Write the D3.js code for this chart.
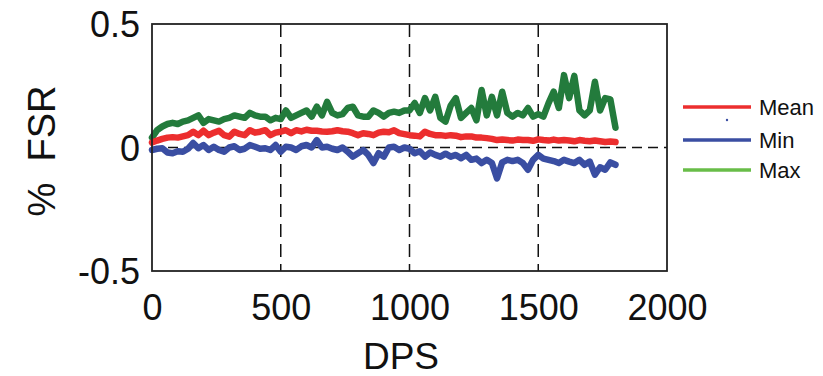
<!DOCTYPE html>
<html>
<head>
<meta charset="utf-8">
<script src="https://cdn.jsdelivr.net/npm/d3@7"></script>
<style>
  html, body { margin: 0; padding: 0; background: #fff; }
  text { font-family: "Liberation Sans", Arial, sans-serif; fill: #111; }
</style>
</head>
<body>
<svg id="chart" width="823" height="376"></svg>
<script>
// DPS sampled every 20 from 0 to 1800
const dps = d3.range(0, 1801, 20);

const meanValues = [
  0.020, 0.028, 0.035, 0.040, 0.042, 0.040, 0.045, 0.050, 0.064, 0.050,
  0.068, 0.050, 0.060, 0.068, 0.050, 0.044, 0.064, 0.055, 0.050, 0.070,
  0.060, 0.064, 0.070, 0.050, 0.060, 0.064, 0.070, 0.058, 0.070, 0.065,
  0.072, 0.068, 0.068, 0.065, 0.064, 0.066, 0.070, 0.066, 0.064, 0.058,
  0.050, 0.058, 0.055, 0.050, 0.060, 0.064, 0.062, 0.070, 0.058, 0.054,
  0.050, 0.048, 0.045, 0.064, 0.055, 0.050, 0.050, 0.047, 0.050, 0.048,
  0.042, 0.045, 0.045, 0.040, 0.040, 0.038, 0.035, 0.030, 0.032, 0.030,
  0.028, 0.032, 0.030, 0.030, 0.027, 0.033, 0.030, 0.028, 0.032, 0.028,
  0.030, 0.028, 0.025, 0.030, 0.027, 0.025, 0.028, 0.025, 0.022, 0.024,
  0.022
];

const minValues = [
  -0.010, -0.005, -0.003, -0.020, -0.023, -0.015, -0.017, -0.005, 0.018, -0.003,
  0.010, -0.010, 0.003, -0.010, -0.017, 0.000, 0.005, -0.010, -0.005, 0.010,
  0.003, -0.005, -0.003, -0.010, 0.010, -0.017, 0.003, 0.000, -0.010, 0.005,
  0.010, 0.000, 0.030, 0.000, 0.003, -0.005, -0.010, 0.000, -0.017, -0.037,
  -0.023, -0.010, -0.030, -0.063, -0.023, -0.037, 0.000, 0.003, -0.010, 0.000,
  -0.005, -0.023, -0.015, -0.037, -0.020, -0.030, -0.037, -0.025, -0.037, -0.030,
  -0.043, -0.030, -0.050, -0.045, -0.063, -0.050, -0.063, -0.125, -0.060, -0.050,
  -0.055, -0.050, -0.063, -0.090, -0.050, -0.030, -0.045, -0.050, -0.055, -0.063,
  -0.050, -0.057, -0.063, -0.050, -0.070, -0.057, -0.110, -0.080, -0.090, -0.060,
  -0.070
];

const maxValues = [
  0.040, 0.070, 0.085, 0.095, 0.100, 0.095, 0.105, 0.110, 0.120, 0.130,
  0.100, 0.115, 0.110, 0.105, 0.115, 0.120, 0.130, 0.125, 0.120, 0.140,
  0.130, 0.125, 0.125, 0.110, 0.120, 0.115, 0.150, 0.120, 0.130, 0.140,
  0.150, 0.125, 0.165, 0.130, 0.185, 0.140, 0.130, 0.135, 0.160, 0.165,
  0.130, 0.125, 0.125, 0.150, 0.140, 0.125, 0.140, 0.145, 0.140, 0.150,
  0.150, 0.180, 0.140, 0.200, 0.150, 0.205, 0.120, 0.105, 0.170, 0.200,
  0.120, 0.140, 0.160, 0.110, 0.233, 0.130, 0.205, 0.130, 0.226, 0.140,
  0.125, 0.140, 0.130, 0.160, 0.125, 0.135, 0.125, 0.180, 0.226, 0.160,
  0.293, 0.200, 0.290, 0.150, 0.130, 0.150, 0.266, 0.150, 0.200, 0.195,
  0.080
];

const xTicks = [0, 500, 1000, 1500, 2000];
const yTicks = [-0.5, 0, 0.5];
const gridX = [500, 1000, 1500];

const series = [
  { name: 'Max', values: maxValues, color: '#237b3c', legendColor: '#68bd48' },
  { name: 'Min', values: minValues, color: '#3a4ea2', legendColor: '#3a4ea2' },
  { name: 'Mean', values: meanValues, color: '#ec2e2e', legendColor: '#ec2e2e' }
];
const legendOrder = ['Mean', 'Min', 'Max'];

const svg = d3.select('#chart');
const plot = { left: 152, right: 667, top: 24, bottom: 271 };

const x = d3.scaleLinear().domain([0, 2000]).range([plot.left, plot.right]);
const y = d3.scaleLinear().domain([-0.5, 0.5]).range([plot.bottom, plot.top]);

// dashed grid
svg.append('g')
  .selectAll('line')
  .data(gridX)
  .join('line')
  .attr('x1', d => x(d)).attr('x2', d => x(d))
  .attr('y1', plot.top).attr('y2', plot.bottom)
  .attr('stroke', '#111')
  .attr('stroke-width', 1.5)
  .attr('stroke-dasharray', '13,7');

svg.append('line')
  .attr('x1', plot.left).attr('x2', plot.right)
  .attr('y1', y(0)).attr('y2', y(0))
  .attr('stroke', '#111')
  .attr('stroke-width', 1.5)
  .attr('stroke-dasharray', '10,6');

// lines
const line = d3.line()
  .x((d, i) => x(dps[i]))
  .y(d => y(d));

svg.append('g')
  .selectAll('path')
  .data(series)
  .join('path')
  .attr('d', d => line(d.values))
  .attr('fill', 'none')
  .attr('stroke', d => d.color)
  .attr('stroke-width', 6.5)
  .attr('stroke-linejoin', 'round')
  .attr('stroke-linecap', 'round');

// frame
svg.append('rect')
  .attr('x', plot.left).attr('y', plot.top)
  .attr('width', plot.right - plot.left)
  .attr('height', plot.bottom - plot.top)
  .attr('fill', 'none')
  .attr('stroke', '#222')
  .attr('stroke-width', 1.8);

// axes
const xAxis = svg.append('g')
  .attr('transform', `translate(0,${plot.bottom})`)
  .call(d3.axisBottom(x).tickValues(xTicks).tickSize(0).tickPadding(0).tickFormat(d3.format('d')));
xAxis.select('.domain').remove();
xAxis.selectAll('text')
  .attr('dy', null)
  .attr('y', 49)
  .style('font-size', '36px')
  .style('font-family', '"Liberation Sans", Arial, sans-serif')
  .attr('fill', '#111');

const yAxis = svg.append('g')
  .attr('transform', `translate(${plot.left},0)`)
  .call(d3.axisLeft(y).tickValues(yTicks).tickSize(0).tickPadding(12)
    .tickFormat(d => d === 0 ? '0' : (d < 0 ? '-' : '') + Math.abs(d).toFixed(1)));
yAxis.select('.domain').remove();
yAxis.selectAll('text')
  .attr('dy', '0.36em')
  .style('font-size', '36px')
  .style('font-family', '"Liberation Sans", Arial, sans-serif')
  .attr('fill', '#111');

// axis titles
svg.append('text')
  .attr('x', 401).attr('y', 369)
  .attr('text-anchor', 'middle')
  .style('font-size', '37px')
  .text('DPS');

svg.append('text')
  .attr('transform', 'translate(55,151) rotate(-90)')
  .attr('text-anchor', 'middle')
  .style('font-size', '38px')
  .style('white-space', 'pre')
  .text('%  FSR');

// legend
const legendRows = { Mean: 107, Min: 140, Max: 170 };
const legend = svg.append('g');
legendOrder.forEach(name => {
  const s = series.find(d => d.name === name);
  const ly = legendRows[name];
  legend.append('line')
    .attr('x1', 683).attr('x2', 751)
    .attr('y1', ly).attr('y2', ly)
    .attr('stroke', s.legendColor)
    .attr('stroke-width', 3.5);
  legend.append('text')
    .attr('x', 759).attr('y', ly + 8)
    .style('font-size', '22px')
    .text(name);
});
legend.append('circle')
  .attr('cx', 727).attr('cy', 120)
  .attr('r', 1.2)
  .attr('fill', '#3a4ea2');
</script>
</body>
</html>
